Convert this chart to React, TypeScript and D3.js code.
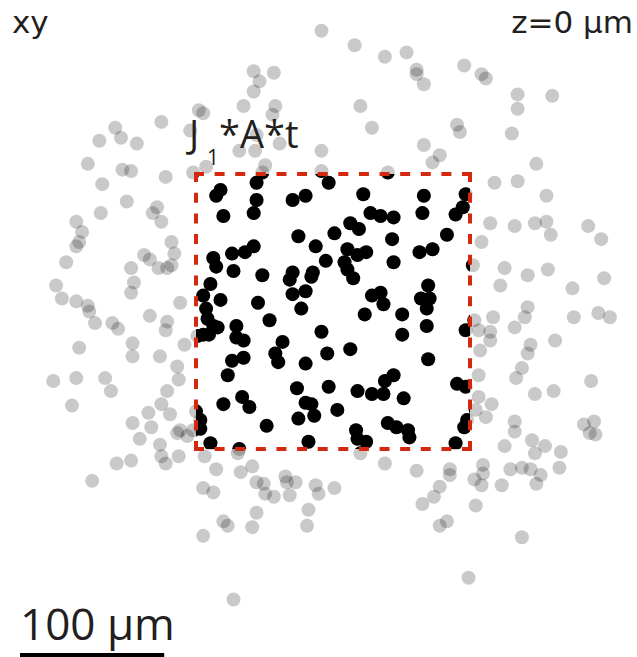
import * as d3 from 'd3';

const W = 637;
const H = 657;

// cell centres in µm, origin at the middle of the J1*A*t window, y pointing down
const FIELD_CELLS: [number, number][] = [
  [-93, -139], [-90, -137], [-119, -131], [-151, -127], [-99, -125], [-162, -118], [-147, -120],
  [-136, -116], [-170, -102], [-146, -98], [-140, -97], [-116, -93], [-97, -96], [-88, -100],
  [-160, -88], [-143, -76], [-122, -72], [-125, -68], [-161, -68], [-178, -62],
  [-8, -194], [15, -184], [36, -176], [51, -179], [58, -167], [58, -164], [63, -157],
  [-55, -166], [-41, -165], [-51, -159], [-55, -152], [-62, -142], [-40, -142], [-42, -136],
  [19, -142], [27, -127], [-53, -122], [-37, -116], [-65, -111], [-54, -111], [-8, -111],
  [63, -115], [69, -103], [-47, -101], [-49, -96], [-8, -97], [38, -96],
  [91, -170], [103, -164], [106, -161], [128, -150], [152, -149], [128, -140], [86, -129],
  [88, -124], [124, -123], [74, -108], [141, -102], [112, -89], [128, -90], [148, -80],
  [-119, -62], [-174, -55], [-176, -48], [-178, -45], [-112, -48], [-185, -34], [-131, -39],
  [-127, -36], [-110, -40], [-140, -30], [-121, -30], [-115, -30], [-112, -32], [-192, -18],
  [-138, -20], [-140, -13], [-188, -9], [-178, -7], [-170, -4], [-169, 0], [-106, -6],
  [-165, 8], [-153, 8], [-149, 12], [-127, 3], [-115, 7], [-116, 13], [-176, 25], [-139, 22],
  [-139, 31], [-120, 31], [-103, 23], [-94, 17], [-194, 48], [-178, 46], [-158, 46],
  [-154, 55], [-108, 38], [-107, 47], [-115, 55], [-181, 65], [-119, 64], [-128, 70],
  [-113, 71], [-139, 77], [-126, 80], [-95, 69], [-106, 82],
  [109, -61], [126, -59], [140, -61], [148, -62], [151, -53], [177, -59], [186, -50],
  [103, -48], [97, -32], [119, -30], [135, -25], [149, -29], [116, -18], [188, -23],
  [166, -16], [135, -3], [133, 4], [111, 4], [98, 6], [101, 13], [109, 14], [109, 20],
  [126, 11], [154, 20], [167, 4], [184, 1], [192, 4], [102, 27], [137, 23], [135, 29],
  [131, 39], [127, 46], [101, 44], [179, 48], [140, 57], [153, 55], [101, 59], [110, 64],
  [99, 68], [106, 73], [126, 76], [126, 83], [174, 78], [181, 76], [178, 84], [182, 85],
  [-134, 88], [-120, 92], [-108, 84], [-101, 86], [-97, 82], [-140, 103], [-150, 105],
  [-119, 100], [-116, 105], [-107, 100], [-89, 100], [-167, 117], [-81, 109], [-90, 122],
  [-83, 125], [-90, 155], [-76, 145], [-73, 148], [-66, 98], [-64, 111], [-56, 107],
  [-53, 118], [-48, 119], [-47, 126], [-41, 128], [-33, 114], [-32, 118], [-26, 118],
  [-30, 127], [-12, 120], [-10, 126], [1, 122], [-53, 139], [-56, 149], [-17, 137],
  [-18, 148], [19, 98], [36, 105], [58, 110], [62, 133], [-69, 199],
  [119, 93], [138, 89], [147, 93], [140, 98], [158, 97], [81, 109], [81, 113], [104, 106],
  [104, 112], [98, 116], [103, 120], [117, 120], [123, 109], [131, 108], [137, 109],
  [144, 113], [141, 119], [157, 108], [74, 121], [70, 128], [99, 134], [79, 145], [74, 148],
  [131, 156], [94, 184],
];

const WINDOW_CELLS: [number, number][] = [
  [-78, -84], [-81, -80], [-53, -89], [-53, -77], [-55, -68], [-3, -89], [-19, -80],
  [-28, -77], [21, -81], [63, -80], [-76, -66], [12, -61], [26, -68], [33, -66], [42, -65],
  [62, -68], [92, -81], [90, -72], [85, -67], [-24, -52], [-12, -45], [1, -54], [18, -57],
  [41, -50], [-70, -40], [-61, -41], [-55, -45], [-83, -37], [-81, -31], [-69, -28],
  [-49, -25], [-5, -35], [10, -43], [17, -39], [23, -41], [8, -34], [10, -29], [14, -23],
  [42, -34], [60, -41], [69, -43], [79, -53], [-28, -27], [-30, -22], [-14, -27], [-15, -24],
  [-85, -19], [-78, -8], [-52, -6], [-28, -12], [-19, -14], [-22, -2], [27, -11], [33, -13],
  [35, -5], [66, -18], [61, -9], [67, -9], [65, -2], [-90, -11], [-88, -2], [-87, 5],
  [-83, 10], [-80, 11], [-90, 16], [-86, 16], [-44, 6], [22, 2], [48, 2], [-67, 10],
  [-67, 18], [-62, 20], [-8, 14], [48, 16], [65, 10], [92, 13], [-35, 21], [-40, 29],
  [-38, 35], [-62, 32], [-70, 34], [-4, 29], [12, 26], [-19, 36], [66, 33], [-73, 44],
  [42, 44], [36, 48], [-25, 53], [-3, 52], [17, 55], [27, 57], [35, 57], [49, 60], [86, 50],
  [92, 52], [-76, 64], [-63, 59], [-58, 66], [-19, 63], [-15, 64], [-13, 72], [-24, 74],
  [3, 68], [-92, 75], [-92, 81], [-46, 79], [16, 82], [38, 77], [44, 80], [52, 82],
  [53, 87], [93, 75], [91, 80], [85, 91], [-85, 91], [-65, 95], [-17, 90], [17, 88], [23, 90],
];

const WINDOW_HALF = 95; // µm
const SCALE_BAR_UM = 100;
const PANEL_LABEL = 'xy';
const DEPTH_LABEL = 'z=0 μm';
const SCALE_LABEL = '100 μm';

const INK = '#231f20';
const WINDOW_RED = '#d4290f';
const FONT = '"Open Sans", "Noto Sans", sans-serif';
const CORNER_FONT = '"DejaVu Sans", sans-serif';

export default function App() {
  const cells = [...FIELD_CELLS, ...WINDOW_CELLS];
  const x = d3.scaleLinear().domain([-WINDOW_HALF, WINDOW_HALF]).range([196, 470]);
  const y = d3.scaleLinear().domain([-WINDOW_HALF, WINDOW_HALF]).range([174, 449]);
  const r = 7;

  const x0 = x(-WINDOW_HALF);
  const x1 = x(WINDOW_HALF);
  const y0 = y(-WINDOW_HALF);
  const y1 = y(WINDOW_HALF);

  // dashes that land on both corners of each side
  const dashFor = (len: number) => {
    const dash = 10;
    const n = Math.round((len + 10) / 20);
    const gap = (len - n * dash) / (n - 1);
    return `${dash} ${gap}`;
  };
  const sides = [
    { a: [x0 - 2, y0], b: [x1 + 2, y0] },
    { a: [x1, y0 - 2], b: [x1, y1 + 2] },
    { a: [x0 - 2, y1], b: [x1 + 2, y1] },
    { a: [x0, y0 - 2], b: [x0, y1 + 2] },
  ];

  const barLen = x(SCALE_BAR_UM) - x(0);

  return (
    <svg
      width={W}
      height={H}
      style={{ position: 'absolute', left: 0, top: 0, background: '#fff' }}
      fontFamily={FONT}
    >
      <defs>
        <clipPath id="window-clip">
          <rect x={x0} y={y0} width={x1 - x0} height={y1 - y0} />
        </clipPath>
      </defs>

      <g className="field">
        {cells.map((d, i) => (
          <circle key={i} cx={x(d[0])} cy={y(d[1])} r={r} fill="#000" fillOpacity={0.21} />
        ))}
      </g>
      <g className="window" clipPath="url(#window-clip)">
        {cells.map((d, i) => (
          <circle key={i} cx={x(d[0])} cy={y(d[1])} r={r} fill="#000" />
        ))}
      </g>

      <g className="window-frame" stroke={WINDOW_RED} strokeWidth={4}>
        {sides.map((s, i) => {
          const len = Math.hypot(s.b[0] - s.a[0], s.b[1] - s.a[1]);
          return (
            <line
              key={i}
              x1={s.a[0]}
              y1={s.a[1]}
              x2={s.b[0]}
              y2={s.b[1]}
              strokeDasharray={dashFor(len)}
            />
          );
        })}
      </g>

      <text x={12} y={33} fontSize={31} fill={INK} fontFamily={CORNER_FONT}>{PANEL_LABEL}</text>
      <text x={633} y={33} fontSize={31} fill={INK} textAnchor="end" fontFamily={CORNER_FONT}>
        {DEPTH_LABEL}
      </text>

      <text y={148} fill={INK} fontSize={38}>
        <tspan x={189}>J</tspan>
        <tspan x={207} y={165} fontSize={21}>1</tspan>
        <tspan x={219} y={148}>*A*t</tspan>
      </text>

      <text x={20} y={640} fontSize={44} fill={INK}>{SCALE_LABEL}</text>
      <rect x={20} y={653} width={barLen} height={5} fill="#000" />
    </svg>
  );
}
